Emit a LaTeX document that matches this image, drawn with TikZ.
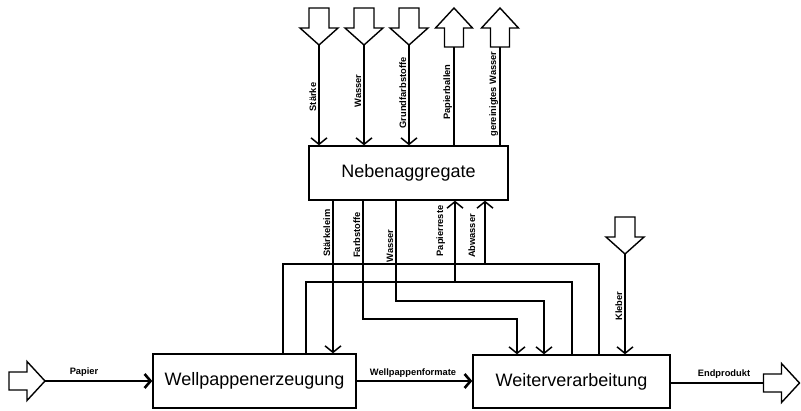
\documentclass[tikz,border=0pt]{standalone}
\usepackage{fontspec}
\setmainfont{Liberation Sans}
\usetikzlibrary{arrows.meta}
\begin{document}
\begin{tikzpicture}[x=1pt,y=-1pt,
  box/.style={draw, line width=1.4pt, inner sep=0pt, fill=white},
  boxfont/.style={font=\fontsize{18}{20}\selectfont},
  flow/.style={line width=1.5pt},
  thick flow/.style={line width=2.6pt},
  tip/.style={-{Straight Barb[length=6.5pt,width=16pt]}},
  bigtip/.style={-{Straight Barb[length=6pt,width=14pt]}},
  lab/.style={font=\bfseries\fontsize{9.3}{11}\selectfont, inner sep=0pt},
  vlab/.style={lab, rotate=90, anchor=base},
  hlab/.style={lab, anchor=base},
  blk/.style={draw, line width=1.4pt, fill=white, line join=miter},
  downblk/.pic={\draw[blk] (-10,-37) -- (10,-37) -- (10,-17) -- (19,-17) -- (0,0) -- (-19,-17) -- (-10,-17) -- cycle;},
  upblk/.pic={\draw[blk] (-9.5,39) -- (9.5,39) -- (9.5,20) -- (18.5,20) -- (0,0) -- (-18.5,20) -- (-9.5,20) -- cycle;},
  rightblk/.pic={\draw[blk] (-36,-9) -- (-36,9) -- (-18,9) -- (-18,19.5) -- (0,0) -- (-18,-19.5) -- (-18,-9) -- cycle;}
]
\useasboundingbox (0,0) rectangle (801,410);

% boxes
\node[box, boxfont, minimum width=199pt, minimum height=54pt] (neben) at (408.5,173) {Nebenaggregate};
\node[box, boxfont, minimum width=203pt, minimum height=54pt] (wpe) at (254.5,381) {Wellpappenerzeugung};
\node[box, boxfont, minimum width=197pt, minimum height=53pt] (wv) at (571.5,381.5) {Weiterverarbeitung};

% block arrows (top)
\coordinate (tSt) at (319,45);
\coordinate (tWa) at (364,45);
\coordinate (tGr) at (409,45);
\coordinate (tPb) at (454,47);
\coordinate (tGw) at (500,47);
\pic at (tSt) {downblk};
\pic at (tWa) {downblk};
\pic at (tGr) {downblk};
\pic at (454,8) {upblk};
\pic at (500,8) {upblk};

% top connectors
\draw[flow,tip] (tSt) -- (neben.north -| tSt);
\draw[flow,tip] (tWa) -- (neben.north -| tWa);
\draw[flow,tip] (tGr) -- (neben.north -| tGr);
\draw[flow] (neben.north -| tPb) -- (tPb);
\draw[flow] (neben.north -| tGw) -- (tGw);

\node[vlab] (lSt) at (316,97) {Stärke};
\node[vlab] (lWa) at (361,91) {Wasser};
\node[vlab] (lGr) at (406,93) {Grundfarbstoffe};
\node[vlab] (lPb) at (450,92) {Papierballen};
\node[vlab] (lGw) at (496,94) {gereinigtes Wasser};

% bottom connectors
\coordinate (sl) at (333,0);
\draw[flow,tip] (neben.south -| sl) -- (wpe.north -| sl);

\coordinate (f1) at (363,319);
\coordinate (f2) at (517,319);
\draw[flow,tip] (neben.south -| f1) -- (f1) -- (f2) -- (wv.north -| f2);

\coordinate (w1) at (396,301);
\coordinate (w2) at (544,301);
\draw[flow,tip] (neben.south -| w1) -- (w1) -- (w2) -- (wv.north -| w2);

\coordinate (p1) at (306,282);
\coordinate (p2) at (572,282);
\coordinate (p3) at (455,282);
\draw[flow] (wpe.north -| p1) -- (p1) -- (p2) -- (wv.north -| p2);
\draw[flow,tip] (p3) -- (neben.south -| p3);

\coordinate (a1) at (283,264);
\coordinate (a2) at (599,264);
\coordinate (a3) at (485,264);
\draw[flow] (wpe.north -| a1) -- (a1) -- (a2) -- (wv.north -| a2);
\draw[flow,tip] (a3) -- (neben.south -| a3);

\node[vlab] (lSl) at (330,233) {Stärkeleim};
\node[vlab] (lFa) at (360,235) {Farbstoffe};
\node[vlab] (lWb) at (393,246) {Wasser};
\node[vlab] (lPr) at (443,231) {Papierreste};
\node[vlab] (lAb) at (475,236) {Abwasser};

% Kleber
\coordinate (tKl) at (625,254);
\pic at (tKl) {downblk};
\draw[flow,tip] (tKl) -- (wv.north -| tKl);
\node[vlab] (lKl) at (622,306) {Kleber};

% horizontal flows
\coordinate (tPa) at (45,381);
\pic at (tPa) {rightblk};
\draw[thick flow,bigtip] (tPa) -- (wpe.west |- tPa);
\node[hlab] (lPa) at (84,374) {Papier};

\draw[thick flow,bigtip] (wpe.east) -- (wv.west |- wpe.east);
\node[hlab] (lWf) at (413,375) {Wellpappenformate};

\coordinate (tEp) at (799.5,383);
\coordinate (eEp) at (764,383);
\pic at (tEp) {rightblk};
\draw[thick flow] (wv.east |- eEp) -- (eEp);
\node[hlab] (lEp) at (724,376) {Endprodukt};
\end{tikzpicture}
\end{document}
